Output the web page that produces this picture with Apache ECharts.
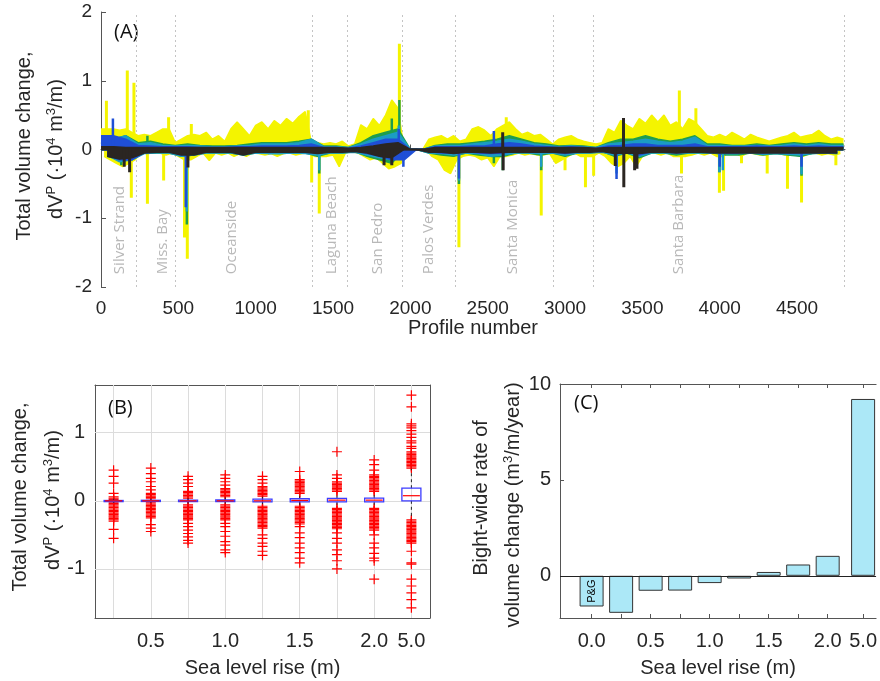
<!DOCTYPE html>
<html>
<head>
<meta charset="utf-8">
<title>Volume change</title>
<script src="https://cdn.jsdelivr.net/npm/echarts@6/dist/echarts.min.js"></script>
<style>
html, body { margin: 0; padding: 0; background: #fff; }
#main { width: 880px; height: 681px; }
</style>
</head>
<body>
<div id="main"></div>
<script>
// ---- panel A : each scenario = a band (upper / lower envelope) plus thin spikes
// yellow band: step 40 profiles, lower envelope half a step later
var yelUp = [0.3,0.3,0.3,0.28,0.3,0.25,0.2,0.22,0.2,0.25,
	0.3,0.3,0.1,0.15,0.2,0.22,0.2,0.25,0.15,0.2,
	0.12,0.3,0.4,0.3,0.2,0.35,0.4,0.3,0.42,0.35,
	0.45,0.38,0.48,0.55,0.1,0.1,0.08,0.1,0.08,0.12,
	0.05,0.08,0.36,0.3,0.45,0.35,0.5,0.72,0.6,0,
	0,0,0,0.15,0.18,0.2,0.15,0.2,0.12,0.15,
	0.3,0.33,0.28,0.2,0.3,0.35,0.4,0.3,0.22,0.25,
	0.2,0.22,0.15,0.08,0.15,0.18,0.2,0.15,0.12,0.1,
	0.08,0.1,0.3,0.25,0.42,0.35,0.3,0.45,0.38,0.5,
	0.4,0.5,0.35,0.4,0.3,0.45,0.4,0.3,0.2,0.18,
	0.22,0.18,0.25,0.2,0.15,0.22,0.18,0.15,0.12,0.15,
	0.18,0.2,0.25,0.18,0.2,0.22,0.28,0.2,0.15,0.18,
	0.15];
var yelDn = [-0.1,-0.15,-0.2,-0.25,-0.2,-0.15,-0.05,-0.06,-0.05,-0.05,
	-0.08,-0.05,-0.1,-0.15,-0.15,-0.1,-0.05,-0.16,-0.05,-0.08,
	-0.05,-0.1,-0.06,-0.1,-0.05,-0.06,-0.08,-0.06,-0.1,-0.06,
	-0.05,-0.08,-0.06,-0.05,-0.1,-0.1,-0.1,-0.08,-0.25,-0.05,
	-0.03,-0.05,-0.1,-0.15,-0.12,-0.2,-0.28,-0.25,-0.2,0,
	0,0,0,-0.1,-0.15,-0.3,-0.35,-0.15,-0.1,-0.08,
	-0.1,-0.15,-0.12,-0.25,-0.1,-0.1,-0.08,-0.05,-0.08,-0.06,
	-0.08,-0.08,-0.06,-0.2,-0.15,-0.1,-0.05,-0.1,-0.1,-0.1,
	-0.05,-0.1,-0.2,-0.25,-0.2,-0.1,-0.25,-0.1,-0.05,-0.05,
	-0.08,-0.05,-0.1,-0.1,-0.1,-0.08,-0.05,-0.08,-0.05,-0.1,
	-0.1,-0.05,-0.05,-0.1,-0.05,-0.06,-0.08,-0.08,-0.06,-0.05,
	-0.08,-0.06,-0.05,-0.1,-0.06,-0.05,-0.08,-0.06,-0.08,-0.06];
var yelSpikes = [[35,0.71],[170,1.15],[196,-0.7],[213,0.97],[300,-0.79],[405,-0.45],[437,0.47],
	[540,-1.28],[558,-1.59],[584,0.37],[1340,0.57],[1362,-0.48],[1411,-0.93],[1929,1.54],
	[2314,-1.42],[2620,0.47],[2846,-0.96],[3000,-0.3],[3132,-0.55],[3185,-0.38],[3739,0.86],
	[3753,-0.35],[3846,0.6],[3998,-0.63],[4025,-0.6],[4141,-0.2],[4307,-0.35],[4438,-0.57],
	[4529,-0.77],[4751,-0.23]];

// the other scenarios: step 80 profiles
var grnUp = [0.1,0.15,0.2,0.1,0.12,0.08,0.06,0.08,0.06,0.05,
	0.05,0.06,0.08,0.1,0.1,0.1,0.12,0.15,0.05,0.05,
	0.03,0.1,0.2,0.25,0.3,0,0,0.06,0.08,0.08,
	0.1,0.12,0.15,0.2,0.15,0.1,0.08,0.05,0.06,0.05,
	0.03,0.1,0.15,0.15,0.2,0.15,0.12,0.15,0.2,0.08,
	0.08,0.06,0.06,0.08,0.06,0.08,0.1,0.08,0.1,0.08,
	0.08];
var grnDn = [-0.1,-0.15,-0.15,-0.05,-0.05,-0.05,-0.1,-0.08,-0.05,-0.05,
	-0.05,-0.08,-0.05,-0.05,-0.06,-0.05,-0.05,-0.1,-0.05,-0.05,
	-0.03,-0.1,-0.15,-0.2,0,0,-0.05,-0.08,-0.1,-0.05,
	-0.08,-0.1,-0.1,-0.05,-0.05,-0.08,-0.05,-0.1,-0.05,-0.05,
	-0.03,-0.1,-0.05,-0.12,-0.05,-0.05,-0.08,-0.05,-0.05,-0.05,
	-0.08,-0.08,-0.05,-0.08,-0.06,-0.08,-0.1,-0.06,-0.05,-0.06];
var grnSpikes = [[131,-0.23],[300,0.2],[555,-1.09],[1411,-0.35],[1880,0.45],[1929,0.72],
	[2314,-0.5],[2540,-0.2],[2597,-0.3],[2846,-0.3],[3998,-0.33],[4529,-0.38]];

var tealUp = [0.08,0.15,0.2,0.08,0.1,0.06,0.05,0.06,0.05,0.04,
	0.04,0.05,0.06,0.08,0.08,0.08,0.1,0.15,0.04,0.04,
	0.03,0.08,0.15,0.2,0.25,0,0,0.05,0.06,0.06,
	0.08,0.1,0.12,0.15,0.12,0.08,0.06,0.04,0.05,0.04,
	0.03,0.08,0.1,0.12,0.15,0.12,0.1,0.12,0.18,0.06,
	0.06,0.05,0.05,0.06,0.05,0.06,0.08,0.06,0.08,0.06,
	0.06];
var tealDn = [-0.08,-0.18,-0.15,-0.06,-0.05,-0.05,-0.1,-0.08,-0.05,-0.05,
	-0.05,-0.08,-0.05,-0.06,-0.06,-0.05,-0.06,-0.08,-0.05,-0.05,
	-0.04,-0.08,-0.12,-0.15,0,0,-0.05,-0.06,-0.08,-0.05,
	-0.06,-0.1,-0.08,-0.05,-0.05,-0.06,-0.05,-0.08,-0.05,-0.05,
	-0.04,-0.08,-0.05,-0.1,-0.05,-0.05,-0.06,-0.05,-0.05,-0.05,
	-0.06,-0.06,-0.05,-0.07,-0.06,-0.07,-0.08,-0.06,-0.05,-0.06];
var tealSpikes = [[555,-0.9],[1411,-0.3],[1925,0.35],[2314,-0.45],[2846,-0.25],[3333,-0.35],
	[3998,-0.33],[4020,-0.3],[4529,-0.36]];

var bluUp = [0.2,0.2,0.15,0.06,0.05,0.04,0.04,0.04,0.03,0.03,
	0.03,0.04,0.04,0.05,0.05,0.05,0.06,0.08,0.03,0.03,
	0.02,0.05,0.1,0.15,0.15,0,0,0.04,0.04,0.04,
	0.05,0.05,0.08,0.1,0.08,0.05,0.04,0.03,0.04,0.03,
	0.02,0.05,0.06,0.08,0.08,0.06,0.06,0.06,0.08,0.04,
	0.04,0.04,0.04,0.05,0.04,0.04,0.05,0.04,0.05,0.04,
	0.04];
var bluDn = [-0.08,-0.15,-0.15,-0.04,-0.03,-0.03,-0.08,-0.06,-0.03,-0.03,
	-0.03,-0.06,-0.03,-0.04,-0.04,-0.03,-0.04,-0.05,-0.03,-0.03,
	-0.02,-0.06,-0.1,-0.15,-0.15,0,-0.03,-0.05,-0.05,-0.03,
	-0.05,-0.06,-0.05,-0.03,-0.03,-0.04,-0.03,-0.06,-0.03,-0.03,
	-0.02,-0.05,-0.03,-0.08,-0.03,-0.03,-0.05,-0.03,-0.03,-0.03,
	-0.05,-0.05,-0.03,-0.05,-0.04,-0.05,-0.05,-0.04,-0.03,-0.04];
var bluSpikes = [[77,0.45],[548,-0.84],[1925,0.3],[1955,-0.25],[2314,-0.42],[2540,0.27],
	[3333,-0.43],[4000,-0.25],[4529,-0.25]];

var blkUp = [0.04,0.04,0.03,0.03,0.03,0.03,0.03,0.03,0.03,0.03,
	0.03,0.03,0.03,0.03,0.03,0.03,0.03,0.03,0.03,0.03,
	0.02,0.03,0.05,0.08,0.1,0,0,0.03,0.03,0.03,
	0.03,0.03,0.03,0.03,0.03,0.03,0.03,0.03,0.03,0.03,
	0.02,0.03,0.03,0.03,0.03,0.03,0.03,0.03,0.03,0.03,
	0.03,0.03,0.03,0.03,0.03,0.03,0.03,0.03,0.03,0.03,
	0.03];
var blkDn = [-0.1,-0.14,-0.12,-0.05,-0.04,-0.04,-0.08,-0.08,-0.04,-0.04,
	-0.04,-0.08,-0.04,-0.04,-0.04,-0.04,-0.04,-0.06,-0.04,-0.04,
	-0.03,-0.05,-0.1,-0.12,0,0,-0.04,-0.04,-0.06,-0.04,
	-0.04,-0.05,-0.04,-0.04,-0.04,-0.04,-0.04,-0.05,-0.04,-0.04,
	-0.03,-0.06,-0.05,-0.06,-0.04,-0.04,-0.05,-0.04,-0.04,-0.05,
	-0.05,-0.05,-0.05,-0.05,-0.05,-0.05,-0.05,-0.05,-0.05,-0.05];
var blkSpikes = [[150,-0.25],[185,-0.33],[562,-0.26],[1830,-0.23],[1880,-0.23],[2597,0.25],
	[2600,-0.3],[3325,-0.24],[3378,0.46],[3380,-0.55],[3450,-0.3],[3465,-0.28]];

var regionNames = ['Silver Strand', 'Miss. Bay', 'Oceanside', 'Laguna Beach', 'San Pedro', 'Palos Verdes', 'Santa Monica', 'Santa Barbara'];
var regionPos = [123, 400, 846, 1493, 1790, 2120, 2663, 3736];
var regionBounds = [226, 478, 1364, 1590, 1946, 2288, 2922, 3180, 4803];
var profileTicks = [0, 500, 1000, 1500, 2000, 2500, 3000, 3500, 4000, 4500];

// ---- panel B : box plots per sea level rise
var slrB = ['0.25', '0.5', '0.75', '1.0', '1.25', '1.5', '1.75', '2.0', '5.0'];
var slrBShown = ['0.5', '1.0', '1.5', '2.0', '5.0'];
var whiskLo = [-0.03, -0.03, -0.04, -0.04, -0.05, -0.06, -0.06, -0.07, -0.27];
var boxQ1 = [-0.012, -0.01, -0.012, -0.012, -0.015, -0.015, -0.015, -0.015, 0.0];
var boxMed = [0, 0, 0, 0, 0, 0.005, 0.01, 0.01, 0.075];
var boxQ3 = [0.005, 0.008, 0.01, 0.012, 0.025, 0.03, 0.035, 0.04, 0.185];
var whiskHi = [0.03, 0.03, 0.04, 0.05, 0.06, 0.08, 0.09, 0.1, 0.47];
var outliers = [
	[0.45,0.36,0.26,0.11,0.06,0.04,0.02,-0.02,-0.04,-0.06,-0.08,-0.1,-0.12,-0.14,-0.16,-0.18,-0.2,-0.22,-0.24,-0.26,-0.28,-0.3,-0.42,-0.55],
	[0.48,0.4,0.33,0.28,0.21,0.16,0.11,0.09,0.07,0.05,0.03,-0.03,-0.05,-0.07,-0.09,-0.11,-0.13,-0.15,-0.17,-0.19,-0.21,-0.23,-0.25,-0.35,-0.4,-0.45],
	[0.36,0.31,0.26,0.21,0.14,0.12,0.1,0.08,0.06,0.04,-0.06,-0.08,-0.1,-0.12,-0.14,-0.16,-0.18,-0.2,-0.22,-0.24,-0.26,-0.28,-0.33,-0.38,-0.43,-0.48,-0.53,-0.58,-0.62],
	[0.38,0.33,0.28,0.23,0.18,0.16,0.14,0.12,0.1,0.08,0.06,-0.06,-0.08,-0.1,-0.12,-0.14,-0.16,-0.18,-0.2,-0.22,-0.24,-0.26,-0.28,-0.33,-0.38,-0.45,-0.52,-0.6,-0.65,-0.72,-0.76],
	[0.36,0.31,0.26,0.21,0.19,0.17,0.15,0.13,0.11,0.09,0.07,-0.08,-0.1,-0.12,-0.14,-0.16,-0.18,-0.2,-0.22,-0.24,-0.26,-0.28,-0.3,-0.32,-0.34,-0.36,-0.38,-0.4,-0.5,-0.55,-0.62,-0.67,-0.74,-0.8],
	[0.43,0.31,0.29,0.27,0.25,0.23,0.21,0.19,0.17,0.15,0.13,0.11,-0.08,-0.1,-0.12,-0.14,-0.16,-0.18,-0.2,-0.22,-0.24,-0.26,-0.28,-0.3,-0.32,-0.34,-0.38,-0.47,-0.54,-0.62,-0.69,-0.76,-0.84,-0.91],
	[0.72,0.38,0.33,0.28,0.26,0.24,0.22,0.2,0.18,0.16,0.14,-0.11,-0.13,-0.15,-0.17,-0.19,-0.21,-0.23,-0.25,-0.27,-0.29,-0.31,-0.33,-0.35,-0.37,-0.39,-0.41,-0.47,-0.55,-0.62,-0.72,-0.79,-0.88,-1.0],
	[0.6,0.53,0.45,0.38,0.36,0.34,0.32,0.3,0.28,0.26,0.24,0.22,0.2,0.18,0.16,0.14,-0.11,-0.13,-0.15,-0.17,-0.19,-0.21,-0.23,-0.25,-0.27,-0.29,-0.31,-0.33,-0.35,-0.37,-0.39,-0.41,-0.43,-0.5,-0.62,-0.69,-0.77,-0.84,-0.88,-1.15],
	[1.55,1.38,1.13,1.1,1.07,1.03,0.98,0.93,0.88,0.85,0.8,0.77,0.72,0.7,0.68,0.66,0.64,0.62,0.6,0.58,0.56,0.54,0.52,0.5,0.48,
	 -0.28,-0.3,-0.32,-0.34,-0.36,-0.38,-0.4,-0.42,-0.44,-0.46,-0.48,-0.5,-0.52,-0.54,-0.56,-0.58,-0.6,-0.62,-0.74,-0.91,-0.93,-1.15,-1.25,-1.35,-1.45,-1.57]
];

// ---- panel C : bight-wide rate
var slrC = ['0.0', '0.25', '0.5', '0.75', '1.0', '1.25', '1.5', '1.75', '2.0', '5.0'];
var rateC = [-1.6, -1.93, -0.78, -0.77, -0.38, -0.14, 0.2, 0.59, 1.04, 9.22];
var slrCShown = ['0.0', '0.5', '1.0', '1.5', '2.0', '5.0'];

// helpers
function env(vals, step, offset) {
	return vals.map(function(v, i) { return [i * step + offset, v]; });
}
var posB = slrB.map(function(s, i) { return i + 1; });
// x position for panel C, the 5.0 bar sits a bit further out
var xPosC = slrC.map(function(s, i) { return i < 9 ? i : 9.2; });

var tickFont = 'Liberation Sans, Arial, sans-serif';
var nameFont = 'Liberation Sans, Arial, sans-serif';
var axisCol = '#555';
var txtCol = '#262626';
var plus = 'path://M4.4,0H5.6V4.4H10V5.6H5.6V10H4.4V5.6H0V4.4H4.4Z';

// origin a hair across zero so that the two halves of a band overlap (no seam)
function areaSeries(data, color, origin, z) {
	return {
		type: 'line', xAxisIndex: 0, yAxisIndex: 0, data: data, z: z,
		showSymbol: false, symbol: 'none', silent: true, clip: true,
		lineStyle: { color: color, width: 1.5 },
		areaStyle: { color: color, opacity: 1, origin: origin }
	};
}
// spikes: go up from 0 to the value and back to 0, then break the line
function spikeSeries(list, color, w, z) {
	var d = [];
	list.slice().sort(function(a, b) { return a[0] - b[0]; }).forEach(function(p) {
		d.push([p[0], 0], [p[0], p[1]], [p[0], 0], [p[0], '-']);
	});
	return {
		type: 'line', xAxisIndex: 0, yAxisIndex: 0, data: d, z: z, connectNulls: false,
		showSymbol: false, symbol: 'none', silent: true, clip: true,
		lineStyle: { color: color, width: w, join: 'miter' }
	};
}
// every scenario gets its own z so later ones sit fully on top of earlier ones
function scenario(up, dn, step, spikes, color, w, z) {
	return [
		areaSeries(env(up, step, 0), color, -0.015, z),
		areaSeries(env(dn, step, step / 2), color, 0.015, z),
		spikeSeries(spikes, color, w, z)
	];
}

var outData = [];
outliers.forEach(function(arr, i) {
	arr.forEach(function(v) { outData.push([posB[i], v]); });
});

var seriesA = [].concat(
	scenario(yelUp, yelDn, 40, yelSpikes, '#f4f400', 3, 2),
	scenario(grnUp, grnDn, 80, grnSpikes, '#1f9e4c', 2.5, 3),
	scenario(tealUp, tealDn, 80, tealSpikes, '#1b9cc4', 2.5, 4),
	scenario(bluUp, bluDn, 80, bluSpikes, '#1f4fd6', 2.5, 5),
	scenario(blkUp, blkDn, 80, blkSpikes, '#2b2622', 3, 6)
);

var chart = echarts.init(document.getElementById('main'));
chart.setOption({
	animation: false,
	backgroundColor: '#fff',
	grid: [
		{ left: 101, top: 12, width: 744, height: 275, show: false },
		{ left: 95, top: 385, width: 335, height: 233, show: false },
		{ left: 560, top: 384, width: 320, height: 234, show: false }
	],
	xAxis: [
		{
			gridIndex: 0, type: 'value', min: 0, max: 4810,
			name: 'Profile number', nameLocation: 'middle', nameGap: 28,
			nameTextStyle: { fontFamily: nameFont, fontSize: 20, color: txtCol },
			axisLine: { show: true, lineStyle: { color: axisCol } },
			axisTick: { inside: true, length: 5, customValues: profileTicks, lineStyle: { color: axisCol } },
			axisLabel: { customValues: profileTicks, margin: 12, fontFamily: tickFont, fontSize: 19, color: txtCol,
				formatter: function(v) { return String(v); } },
			splitLine: { show: false }
		},
		{
			gridIndex: 1, type: 'value', min: 0.5, max: 9.5,
			name: 'Sea level rise (m)', nameLocation: 'middle', nameGap: 40,
			nameTextStyle: { fontFamily: nameFont, fontSize: 20, color: txtCol },
			axisLine: { show: true, onZero: false, lineStyle: { color: axisCol } },
			axisTick: { inside: true, length: 4, customValues: posB, lineStyle: { color: axisCol } },
			axisLabel: {
				customValues: posB.filter(function(p, i) { return slrBShown.indexOf(slrB[i]) >= 0; }),
				margin: 13, fontFamily: tickFont, fontSize: 20, color: txtCol,
				formatter: function(v) { return slrB[Math.round(v) - 1]; }
			},
			splitLine: { show: false }
		},
		{
			gridIndex: 1, type: 'value', min: 0.5, max: 9.5, position: 'top',
			axisLine: { show: true, onZero: false, lineStyle: { color: axisCol } },
			axisTick: { inside: true, length: 4, customValues: posB, lineStyle: { color: axisCol } },
			axisLabel: { show: false }, splitLine: { show: false }
		},
		{
			gridIndex: 2, type: 'value', min: -1.071, max: 9.64,
			name: 'Sea level rise (m)', nameLocation: 'middle', nameGap: 40,
			nameTextStyle: { fontFamily: nameFont, fontSize: 20, color: txtCol },
			axisLine: { show: true, onZero: false, lineStyle: { color: axisCol } },
			axisTick: { inside: true, length: 4, customValues: xPosC, lineStyle: { color: axisCol } },
			axisLabel: {
				customValues: xPosC.filter(function(x, i) { return slrCShown.indexOf(slrC[i]) >= 0; }),
				margin: 13, fontFamily: tickFont, fontSize: 20, color: txtCol,
				formatter: function(v) { return v >= 9 ? '5.0' : slrC[Math.round(v)]; }
			},
			splitLine: { show: false }
		},
		{
			gridIndex: 2, type: 'value', min: -1.071, max: 9.64, position: 'top',
			axisLine: { show: true, onZero: false, lineStyle: { color: axisCol } },
			axisTick: { inside: true, length: 4, customValues: xPosC, lineStyle: { color: axisCol } },
			axisLabel: { show: false }, splitLine: { show: false }
		}
	],
	yAxis: [
		{
			gridIndex: 0, type: 'value', min: -2, max: 2, interval: 1,
			axisLine: { show: true, lineStyle: { color: axisCol } },
			axisTick: { show: true, inside: true, length: 5, lineStyle: { color: axisCol } },
			axisLabel: { margin: 9, fontFamily: tickFont, fontSize: 19, color: txtCol },
			splitLine: { show: false }
		},
		{
			gridIndex: 1, type: 'value', min: -1.72, max: 1.7,
			axisLine: { show: true, onZero: false, lineStyle: { color: axisCol } },
			axisTick: { show: true, inside: true, length: 4, customValues: [-1, 0, 1], lineStyle: { color: axisCol } },
			axisLabel: { customValues: [-1, 0, 1], margin: 10, fontFamily: tickFont, fontSize: 20, color: txtCol },
			splitLine: { show: false }
		},
		{
			gridIndex: 1, type: 'value', min: -1.72, max: 1.7, position: 'right',
			axisLine: { show: true, onZero: false, lineStyle: { color: axisCol } },
			axisTick: { show: true, inside: true, length: 4, customValues: [-1, 0, 1], lineStyle: { color: axisCol } },
			axisLabel: { show: false }, splitLine: { show: false }
		},
		{
			gridIndex: 2, type: 'value', min: -2.2, max: 10,
			axisLine: { show: true, onZero: false, lineStyle: { color: axisCol } },
			axisTick: { show: true, inside: true, length: 4, customValues: [0, 5, 10], lineStyle: { color: axisCol } },
			axisLabel: { customValues: [0, 5, 10], margin: 9, fontFamily: tickFont, fontSize: 20, color: txtCol },
			splitLine: { show: false }
		}
	],
	series: seriesA.concat([
		// region names and boundaries, kept behind the profiles
		{
			type: 'scatter', xAxisIndex: 0, yAxisIndex: 0, symbolSize: 1, silent: true, z: 1,
			itemStyle: { color: 'rgba(0,0,0,0)' },
			data: regionNames.map(function(n, i) { return { name: n, value: [regionPos[i], -1.82] }; }),
			label: {
				show: true, formatter: '{b}', rotate: 90, position: [0, 0], align: 'left', verticalAlign: 'middle',
				fontFamily: 'Open Sans, sans-serif', fontSize: 15, color: '#a6a6a6'
			},
			markLine: {
				silent: true, symbol: ['none', 'none'], label: { show: false }, z: 1,
				lineStyle: { color: '#c4c4c4', type: [2, 3], width: 1 },
				data: regionBounds.map(function(v) { return { xAxis: v }; })
			}
		},
		// B grid lines
		{
			type: 'scatter', xAxisIndex: 1, yAxisIndex: 1, data: [[1, 0]], symbolSize: 0, silent: true, z: 1,
			itemStyle: { color: 'rgba(0,0,0,0)' },
			markLine: {
				silent: true, symbol: ['none', 'none'], label: { show: false }, z: 1,
				lineStyle: { color: '#dcdcdc', type: 'solid', width: 1 },
				data: [{ yAxis: -1 }, { yAxis: 0 }, { yAxis: 1 }].concat(posB.map(function(p) { return { xAxis: p }; }))
			}
		},
		{
			type: 'scatter', xAxisIndex: 1, yAxisIndex: 1, data: outData, silent: true,
			symbol: plus, symbolSize: 10, itemStyle: { color: '#ff0000', opacity: 1 }
		},
		{
			type: 'custom', xAxisIndex: 1, yAxisIndex: 1, silent: true, z: 3,
			encode: { x: 0, y: [1, 2, 3, 4, 5] },
			data: posB.map(function(p, i) { return [p, whiskLo[i], boxQ1[i], boxMed[i], boxQ3[i], whiskHi[i]]; }),
			renderItem: function(params, api) {
				var x = api.value(0);
				var lo = api.coord([x, api.value(1)]);
				var q1 = api.coord([x, api.value(2)]);
				var md = api.coord([x, api.value(3)]);
				var q3 = api.coord([x, api.value(4)]);
				var hi = api.coord([x, api.value(5)]);
				var hw = 9.5;
				var dash = { stroke: '#222', lineWidth: 1, lineDash: [3, 3], fill: null };
				return {
					type: 'group',
					children: [
						{ type: 'line', shape: { x1: q3[0], y1: q3[1], x2: hi[0], y2: hi[1] }, style: dash },
						{ type: 'line', shape: { x1: q1[0], y1: q1[1], x2: lo[0], y2: lo[1] }, style: dash },
						{ type: 'rect', shape: { x: q3[0] - hw, y: q3[1], width: hw * 2, height: Math.max(q1[1] - q3[1], 1) },
							style: { fill: 'rgba(255,255,255,0)', stroke: '#3b3bff', lineWidth: 1.3 } },
						{ type: 'line', shape: { x1: md[0] - hw + 1, y1: md[1], x2: md[0] + hw - 1, y2: md[1] },
							style: { stroke: '#ff0000', lineWidth: 1.2 } }
					]
				};
			}
		},
		// C
		{
			type: 'bar', xAxisIndex: 3, yAxisIndex: 3, barWidth: 24, silent: true,
			itemStyle: { color: '#ace8f7', borderColor: '#333', borderWidth: 1 },
			data: xPosC.map(function(x, i) {
				var d = { value: [x, rateC[i]] };
				if (i === 0) {
					d.label = { show: true, position: 'inside', rotate: 90, formatter: 'P&G',
						fontFamily: tickFont, fontSize: 11, color: '#000' };
				}
				return d;
			}),
			markLine: {
				silent: true, symbol: ['none', 'none'], label: { show: false },
				lineStyle: { color: '#222', type: 'solid', width: 1 },
				data: [{ yAxis: 0 }]
			}
		}
	]),
	graphic: [
		{ type: 'text', x: 114, y: 22, style: { text: '(A)', font: '20px Open Sans', fill: '#111' } },
		{ type: 'text', x: 108, y: 398, style: { text: '(B)', font: '20px Open Sans', fill: '#111' } },
		{ type: 'text', x: 574, y: 393, style: { text: '(C)', font: '20px Open Sans', fill: '#111' } },
		// y labels
		{ type: 'text', x: 24, y: 146, rotation: Math.PI / 2,
			style: { text: 'Total volume change,', font: '20px Liberation Sans', fill: txtCol, align: 'center', verticalAlign: 'middle' } },
		{ type: 'text', x: 56, y: 149, rotation: Math.PI / 2,
			style: { text: '{a|dV}{s|P}{a| (·10}{s|4}{a| m}{s|3}{a|/m)}', align: 'center', verticalAlign: 'middle',
				rich: { a: { font: '20px Liberation Sans', fill: txtCol }, s: { font: '13px Liberation Sans', fill: txtCol, padding: [0, 0, 9, 0] } } } },
		{ type: 'text', x: 20, y: 497, rotation: Math.PI / 2,
			style: { text: 'Total volume change,', font: '20px Liberation Sans', fill: txtCol, align: 'center', verticalAlign: 'middle' } },
		{ type: 'text', x: 53, y: 500, rotation: Math.PI / 2,
			style: { text: '{a|dV}{s|P}{a| (·10}{s|4}{a| m}{s|3}{a|/m)}', align: 'center', verticalAlign: 'middle',
				rich: { a: { font: '20px Liberation Sans', fill: txtCol }, s: { font: '13px Liberation Sans', fill: txtCol, padding: [0, 0, 9, 0] } } } },
		{ type: 'text', x: 481, y: 498, rotation: Math.PI / 2,
			style: { text: 'Bight-wide rate of', font: '20px Liberation Sans', fill: txtCol, align: 'center', verticalAlign: 'middle' } },
		{ type: 'text', x: 513, y: 505, rotation: Math.PI / 2,
			style: { text: '{a|volume change (m}{s|3}{a|/m/year)}', align: 'center', verticalAlign: 'middle',
				rich: { a: { font: '20px Liberation Sans', fill: txtCol }, s: { font: '13px Liberation Sans', fill: txtCol, padding: [0, 0, 9, 0] } } } }
	]
});
</script>
</body>
</html>
